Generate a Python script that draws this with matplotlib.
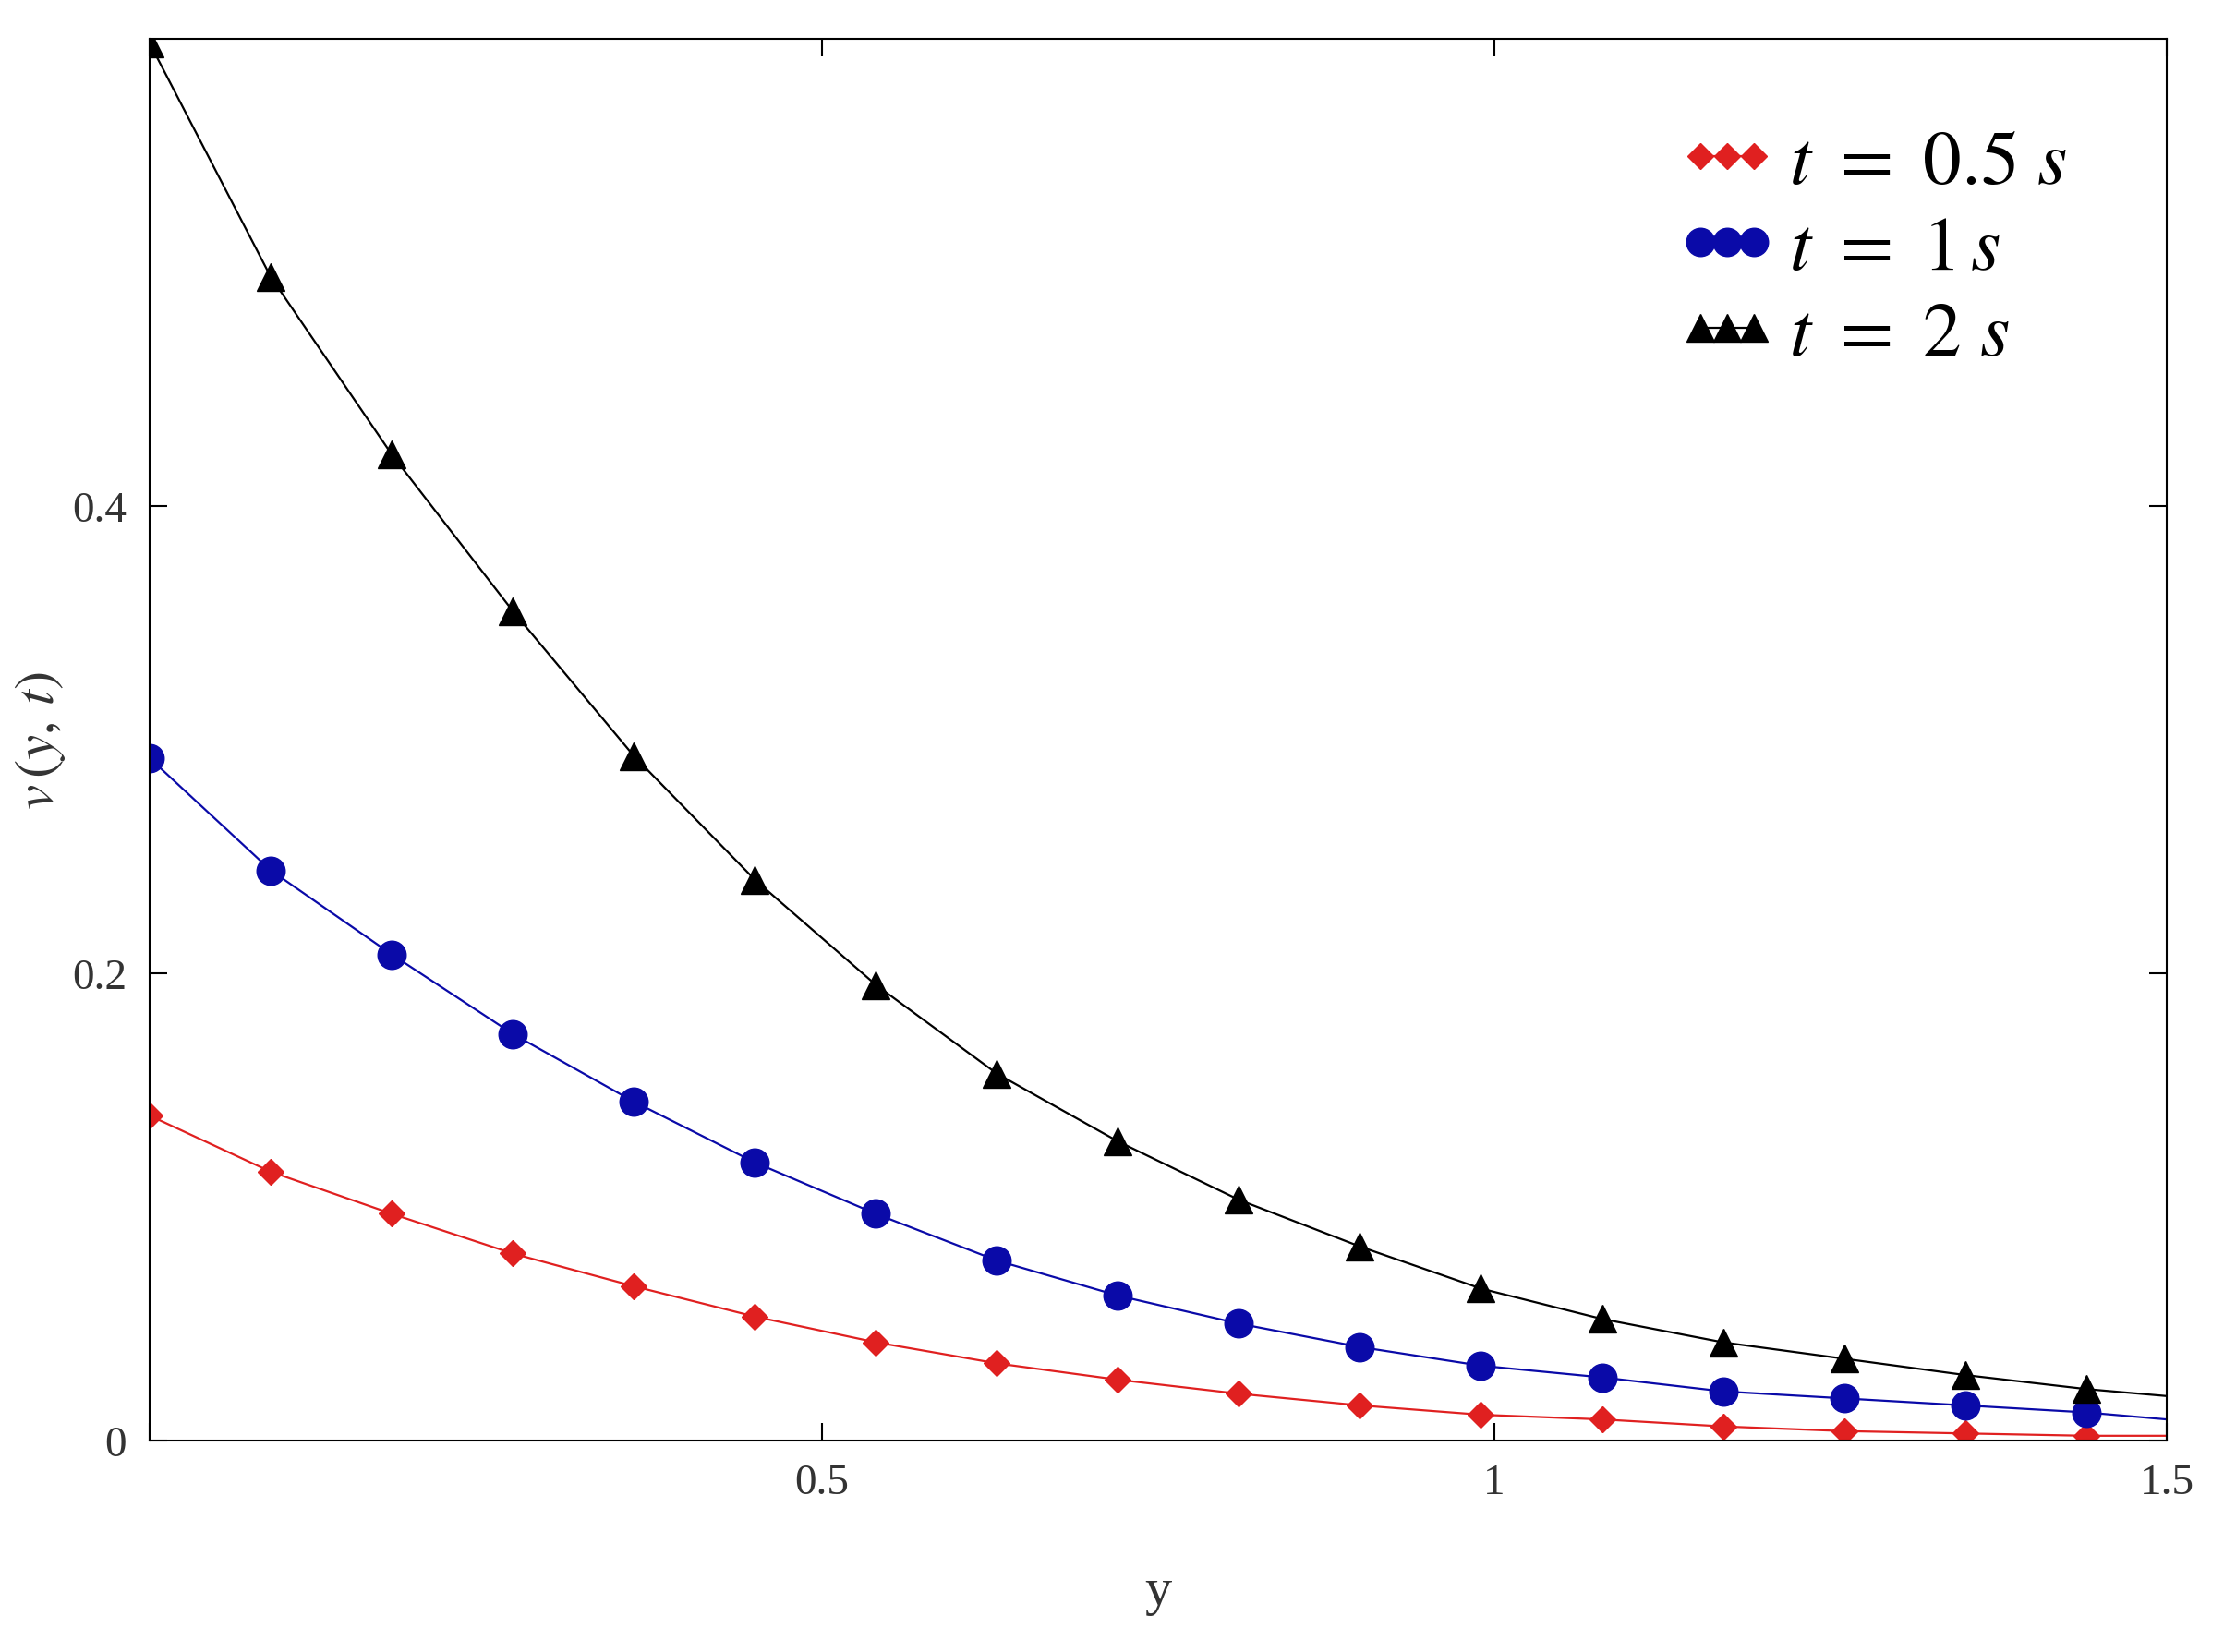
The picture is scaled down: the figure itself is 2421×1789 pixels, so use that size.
import numpy as np
import matplotlib.pyplot as plt

plt.rcParams["font.family"] = ["Liberation Serif", "DejaVu Serif"]
plt.rcParams["mathtext.fontset"] = "stix"

# marker positions (y) and values
y_pts = [0.0, 0.09, 0.18, 0.27, 0.36, 0.45, 0.54, 0.63, 0.72, 0.81, 0.90,
         0.99, 1.08, 1.17, 1.26, 1.35, 1.44, 1.5]
v_half = [0.139, 0.115, 0.097, 0.080, 0.066, 0.053, 0.042, 0.033, 0.026, 0.020,
          0.015, 0.011, 0.009, 0.006, 0.004, 0.003, 0.002, 0.002]
v_one = [0.292, 0.244, 0.208, 0.174, 0.145, 0.119, 0.097, 0.077, 0.062, 0.050,
         0.040, 0.032, 0.027, 0.021, 0.018, 0.015, 0.012, 0.009]
v_two = [0.598, 0.498, 0.422, 0.355, 0.293, 0.240, 0.195, 0.157, 0.128, 0.103,
         0.083, 0.065, 0.052, 0.042, 0.035, 0.028, 0.022, 0.019]
labels = [r"$t\ =\ 0.5\ s$", r"$t\ =\ 1\,s$", r"$t\ =\ 2\ s$"]

fig = plt.figure(figsize=(24.21, 17.9), dpi=100)
ax = fig.add_axes([0.067, 0.128, 0.902, 0.848])

styles = [
    (v_half, "#e02020", "D", 14),
    (v_one, "#0a0aa8", "o", 22),
    (v_two, "black", "^", 21),
]
for (vals, col, mk, ms), lab in zip(styles, labels):
    ax.plot(y_pts, vals, color=col, lw=1.6, marker=mk, markersize=ms,
            markevery=list(range(len(y_pts) - 1)), label=lab)

ax.set_xlim(0, 1.5)
ax.set_ylim(0, 0.6)
ax.set_xticks([0, 0.5, 1, 1.5])
ax.set_xticklabels(["", "0.5", "1", "1.5"])
ax.set_yticks([0, 0.2, 0.4])
ax.set_yticklabels(["0", "0.2", "0.4"])
ax.tick_params(direction="in", length=14, width=1.5, labelsize=34,
               top=True, right=True, labelcolor="#333333", pad=18)
for s in ax.spines.values():
    s.set_linewidth(1.5)
ax.set_xlabel("y", fontsize=42, labelpad=50, color="#333333")
ax.set_ylabel(r"$v\,(y,\,t)$", fontsize=44, color="#333333")

leg = ax.legend(loc="upper right", fontsize=60, frameon=False, numpoints=3,
                handlelength=1.3, handletextpad=0.15, labelspacing=0.2,
                bbox_to_anchor=(0.985, 0.985))

fig.savefig("out.png", dpi=100)
